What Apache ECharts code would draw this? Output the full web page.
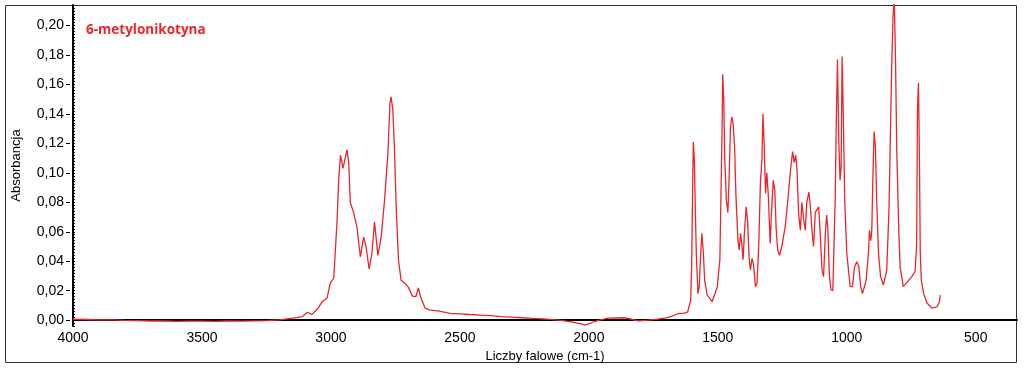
<!DOCTYPE html>
<html>
<head>
<meta charset="utf-8">
<script src="https://cdn.jsdelivr.net/npm/echarts@6/dist/echarts.min.js"></script>
<style>
    html, body { margin: 0; padding: 0; background: #fff; }
    #main { width: 1024px; height: 373px; }
</style>
</head>
<body>
<div id="main"></div>
<script>
// wavenumbers (cm-1), high to low
var wavenumbers = [
    4000, 3950, 3900, 3850, 3800, 3750, 3700, 3650, 3600, 3550, 3500, 3450, 3400, 3350, 3300, 3250,
    3200, 3170, 3140, 3112, 3092, 3073, 3050, 3034, 3015, 3003, 2989, 2976, 2970, 2963, 2953, 2938,
    2931, 2925, 2912, 2899, 2886, 2873, 2864, 2852, 2841, 2831, 2818, 2805, 2792, 2779, 2771, 2767,
    2760, 2754, 2747, 2738, 2728, 2713, 2700, 2684, 2671, 2661, 2651, 2635, 2616, 2584, 2539, 2500,
    2460, 2420, 2380, 2340, 2300, 2260, 2220, 2180, 2140, 2100, 2070, 2050, 2030, 2015, 2000, 1990,
    1980, 1950, 1926, 1864, 1840, 1810, 1770, 1733, 1700, 1683, 1652, 1630, 1617, 1605, 1601, 1598,
    1595, 1591, 1587, 1583, 1577, 1572, 1567, 1562, 1556, 1551, 1541, 1522, 1515, 1502, 1492, 1487,
    1483, 1481, 1477, 1473, 1467, 1461, 1456, 1451, 1446, 1441, 1435, 1430, 1422, 1417, 1412, 1407,
    1402, 1397, 1390, 1384, 1379, 1374, 1367, 1361, 1354, 1348, 1341, 1335, 1329, 1325, 1320, 1315,
    1310, 1304, 1297, 1292, 1285, 1279, 1274, 1268, 1261, 1252, 1239, 1226, 1217, 1210, 1204, 1198,
    1193, 1187, 1180, 1174, 1167, 1161, 1155, 1147, 1141, 1134, 1129, 1122, 1116, 1109, 1103, 1096,
    1090, 1083, 1078, 1073, 1068, 1062, 1054, 1045, 1041, 1036, 1031, 1026, 1022, 1018, 1013, 1008,
    1000, 987, 978, 970, 961, 953, 946, 939, 925, 916, 912, 907, 903, 899, 894, 889,
    884, 877, 869, 858, 845, 836, 829, 825, 820, 816, 811, 806, 798, 793, 781, 765,
    748, 735, 729, 726, 722, 718, 715, 711, 702, 689, 670, 650, 641, 637
];
// absorbance at each wavenumber
var absorbance = [
    0.0006, 0.0004, 0.0002, 0.0001, -0.0002, -0.0004, -0.0006, -0.0005, -0.0008, -0.0007, -0.0007, -0.0008, -0.0006, -0.0007, -0.0005, -0.0004,
    0.0002, 0.0008, 0.0015, 0.0023, 0.0052, 0.0039, 0.008, 0.0125, 0.015, 0.025, 0.0286, 0.068, 0.095, 0.112, 0.103, 0.1156,
    0.107, 0.080, 0.073, 0.063, 0.043, 0.0565, 0.050, 0.0347, 0.0456, 0.0667, 0.044, 0.0565, 0.0816, 0.1136, 0.1476, 0.1517,
    0.1429, 0.118, 0.077, 0.0408, 0.027, 0.025, 0.0224, 0.0163, 0.0159, 0.0218, 0.015, 0.0082, 0.0068, 0.0063, 0.0046, 0.0043,
    0.0038, 0.0034, 0.003, 0.0024, 0.002, 0.0016, 0.0012, 0.0008, 0.0003, -0.0004, -0.0012, -0.0018, -0.0026, -0.0032, -0.0026, -0.0018,
    -0.0011, 0.0004, 0.0013, 0.0016, 0.0008, -0.0005, 0.0, 0.0007, 0.0015, 0.0023, 0.0045, 0.0048, 0.0055, 0.0136, 0.04, 0.085,
    0.121, 0.109, 0.073, 0.043, 0.018, 0.0227, 0.043, 0.059, 0.0456, 0.027, 0.017, 0.0125, 0.012, 0.0227, 0.041, 0.093,
    0.135, 0.167, 0.15, 0.109, 0.0816, 0.073, 0.0975, 0.131, 0.138, 0.134, 0.118, 0.086, 0.054, 0.0476, 0.059, 0.052,
    0.041, 0.059, 0.077, 0.066, 0.043, 0.034, 0.042, 0.037, 0.0227, 0.025, 0.052, 0.093, 0.109, 0.140, 0.118, 0.086,
    0.100, 0.084, 0.052, 0.073, 0.095, 0.088, 0.063, 0.0476, 0.044, 0.05, 0.063, 0.086, 0.104, 0.1145, 0.107, 0.112,
    0.102, 0.073, 0.061, 0.080, 0.068, 0.061, 0.080, 0.087, 0.077, 0.059, 0.050, 0.073, 0.075, 0.077, 0.059, 0.034,
    0.0295, 0.059, 0.0714, 0.061, 0.032, 0.021, 0.020, 0.0816, 0.131, 0.177, 0.122, 0.095, 0.104, 0.179, 0.134, 0.0816,
    0.0456, 0.0227, 0.0227, 0.036, 0.0397, 0.036, 0.0227, 0.018, 0.027, 0.0456, 0.061, 0.054, 0.061, 0.095, 0.128, 0.118,
    0.0816, 0.0456, 0.0295, 0.0238, 0.034, 0.077, 0.143, 0.179, 0.2086, 0.22, 0.177, 0.1136, 0.059, 0.036, 0.0227, 0.026,
    0.0295, 0.033, 0.052, 0.143, 0.161, 0.104, 0.0456, 0.027, 0.018, 0.0116, 0.0082, 0.009, 0.0125, 0.017
];
var xTickLabels = [4000, 3500, 3000, 2500, 2000, 1500, 1000, 500];
var yTickLabels = ['0,00', '0,02', '0,04', '0,06', '0,08', '0,10', '0,12', '0,14', '0,16', '0,18', '0,20'];

window.addEventListener('load', function () {
    let chart = echarts.init(document.getElementById('main'));
    let spectrum = wavenumbers.map(function (w, i) { return [w, absorbance[i]]; });
    let font = "'Liberation Sans', Arial, sans-serif";

    let option = {
        animation: false,
        title: {
            text: '6-metylonikotyna',
            left: 86,
            top: 23,
            padding: 0,
            textStyle: { color: '#e8262c', fontSize: 13.5, fontWeight: 'bold', fontFamily: "'Open Sans', sans-serif" }
        },
        graphic: [{
            type: 'rect',
            z: -1,
            shape: { x: 5.5, y: 5.5, width: 1011, height: 357 },
            style: { fill: 'none', stroke: '#333', lineWidth: 1 }
        }],
        grid: [
            { left: 70, right: 7, top: 5, bottom: 47 },
            // only carries the labelled ticks 0,00 .. 0,20
            { left: 70, right: 7, top: 25.6, height: 294.5 }
        ],
        xAxis: [
            {
                type: 'value',
                inverse: true,
                min: 340,
                max: 4000,
                interval: 20,
                name: 'Liczby falowe (cm-1)',
                nameLocation: 'middle',
                nameGap: 22,
                nameTextStyle: { color: '#000', fontSize: 13, fontFamily: font },
                axisLine: { lineStyle: { color: '#000', width: 2 } },
                axisTick: { show: false },
                splitLine: { show: false },
                axisLabel: {
                    color: '#000',
                    fontSize: 14,
                    fontFamily: font,
                    margin: 5,
                    formatter: function (v) {
                        return xTickLabels.indexOf(Math.round(v)) >= 0 ? String(Math.round(v)) : '';
                    }
                }
            },
            { type: 'value', gridIndex: 1, min: 0, max: 1, show: false }
        ],
        yAxis: [
            {
                type: 'value',
                min: -0.004,
                max: 0.214,
                interval: 0.002,
                name: 'Absorbancja',
                nameLocation: 'middle',
                nameGap: 48,
                nameTextStyle: { color: '#000', fontSize: 13, fontFamily: font, backgroundColor: '#fff', padding: [2, 8] },
                axisLine: { lineStyle: { color: '#000', width: 2 } },
                axisTick: { inside: true, length: 2, lineStyle: { color: '#000', width: 1 } },
                axisLabel: { show: false },
                splitLine: { show: false }
            },
            {
                type: 'value',
                gridIndex: 1,
                min: 0,
                max: 0.2,
                interval: 0.02,
                axisLine: { show: false },
                axisTick: { show: true, length: 4, lineStyle: { color: '#000', width: 1 } },
                splitLine: { show: false },
                axisLabel: {
                    color: '#000',
                    fontSize: 14,
                    fontFamily: font,
                    margin: 6,
                    formatter: function (v) { return yTickLabels[Math.round(v / 0.02)]; }
                }
            }
        ],
        series: [{
            type: 'line',
            data: spectrum,
            symbol: 'none',
            clip: true,
            lineStyle: { color: '#e8262c', width: 1.3 }
        }]
    };
    chart.setOption(option);
}, false);
</script>
</body>
</html>
